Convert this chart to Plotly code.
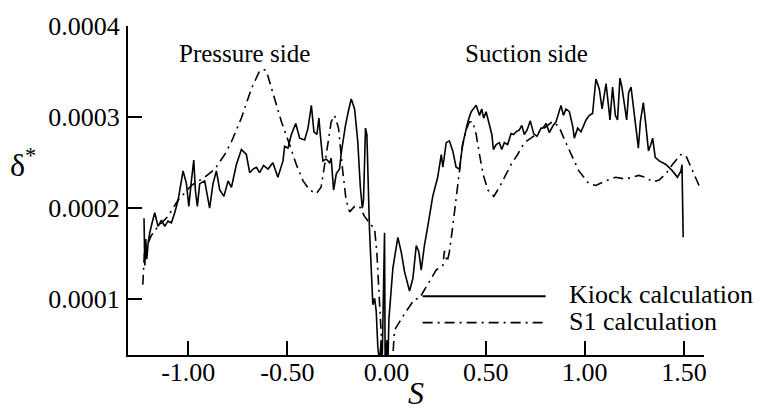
import plotly.graph_objects as go

# ---- data (S, displacement thickness) ----
kiock_s = [-1.223, -1.219, -1.214, -1.209, -1.202, -1.194, -1.182, -1.169, -1.152, -1.135,
           -1.118, -1.102, -1.085, -1.068, -1.051, -1.026, -1.009, -0.997, -0.984, -0.972,
           -0.964, -0.954, -0.942, -0.917, -0.892, -0.875, -0.858, -0.841, -0.820, -0.799,
           -0.782, -0.757, -0.732, -0.707, -0.690, -0.673, -0.656, -0.640, -0.620, -0.598,
           -0.573, -0.548, -0.522, -0.514, -0.497, -0.480, -0.458, -0.438, -0.413, -0.396,
           -0.379, -0.366, -0.351, -0.341, -0.334, -0.321, -0.304, -0.287, -0.279, -0.267,
           -0.253, -0.237, -0.228, -0.207, -0.190, -0.178, -0.161, -0.145, -0.132, -0.122,
           -0.116, -0.106, -0.099, -0.086, -0.069, -0.060, -0.052, -0.044, -0.035, -0.027,
           -0.022, -0.010, -0.007, 0.002, 0.007, 0.012, 0.032, 0.057, 0.074, 0.091,
           0.116, 0.133, 0.150, 0.163, 0.175, 0.191, 0.208, 0.233, 0.258, 0.276,
           0.284, 0.301, 0.317, 0.334, 0.351, 0.368, 0.384, 0.410, 0.427, 0.452,
           0.469, 0.480, 0.490, 0.502, 0.515, 0.531, 0.539, 0.553, 0.569, 0.581,
           0.594, 0.611, 0.628, 0.641, 0.653, 0.670, 0.682, 0.695, 0.709, 0.725,
           0.742, 0.759, 0.779, 0.788, 0.805, 0.821, 0.838, 0.855, 0.880, 0.892,
           0.905, 0.922, 0.939, 0.947, 0.964, 0.981, 1.006, 1.023, 1.039, 1.056,
           1.073, 1.087, 1.107, 1.127, 1.140, 1.154, 1.165, 1.177, 1.187, 1.211,
           1.221, 1.233, 1.258, 1.270, 1.280, 1.295, 1.308, 1.321, 1.333, 1.342,
           1.355, 1.375, 1.409, 1.442, 1.467, 1.485, 1.490, 1.496]
kiock_d = [1.89e-4, 1.37e-4, 1.66e-4, 1.44e-4, 1.62e-4, 1.73e-4, 1.84e-4, 1.95e-4, 1.80e-4, 1.87e-4,
           1.80e-4, 1.86e-4, 1.84e-4, 1.95e-4, 2.09e-4, 2.41e-4, 2.27e-4, 2.02e-4, 2.30e-4, 2.53e-4,
           2.20e-4, 2.02e-4, 2.27e-4, 2.30e-4, 2.00e-4, 2.27e-4, 2.41e-4, 2.20e-4, 2.13e-4, 2.30e-4,
           2.23e-4, 2.48e-4, 2.645e-4, 2.59e-4, 2.39e-4, 2.43e-4, 2.45e-4, 2.39e-4, 2.47e-4, 2.43e-4,
           2.50e-4, 2.34e-4, 2.52e-4, 2.68e-4, 2.66e-4, 2.81e-4, 2.93e-4, 2.77e-4, 2.75e-4, 2.88e-4,
           3.13e-4, 2.84e-4, 2.81e-4, 2.99e-4, 2.81e-4, 2.52e-4, 2.54e-4, 2.50e-4, 2.55e-4, 2.20e-4,
           2.38e-4, 2.43e-4, 2.61e-4, 2.91e-4, 3.09e-4, 3.20e-4, 3.09e-4, 2.73e-4, 2.23e-4, 2.00e-4,
           2.09e-4, 2.88e-4, 2.81e-4, 1.77e-4, 0.94e-4, 1.01e-4, 0.87e-4, 0.48e-4, 0.30e-4, 0.55e-4,
           0.30e-4, 1.73e-4, 0.30e-4, 0.55e-4, 0.30e-4, 0.78e-4, 1.34e-4, 1.68e-4, 1.52e-4, 1.30e-4,
           1.09e-4, 1.23e-4, 1.59e-4, 1.52e-4, 1.32e-4, 1.59e-4, 1.80e-4, 2.13e-4, 2.34e-4, 2.59e-4,
           2.45e-4, 2.72e-4, 2.74e-4, 2.63e-4, 2.45e-4, 2.43e-4, 2.70e-4, 2.95e-4, 3.06e-4, 3.13e-4,
           3.02e-4, 3.09e-4, 2.99e-4, 3.06e-4, 2.95e-4, 2.81e-4, 2.645e-4, 2.70e-4, 2.72e-4, 2.645e-4,
           2.72e-4, 2.70e-4, 2.82e-4, 2.81e-4, 2.84e-4, 2.86e-4, 2.91e-4, 2.81e-4, 2.86e-4, 2.96e-4,
           2.82e-4, 2.79e-4, 2.88e-4, 2.88e-4, 2.93e-4, 2.83e-4, 2.90e-4, 2.95e-4, 3.13e-4, 3.02e-4,
           3.09e-4, 3.06e-4, 2.90e-4, 2.77e-4, 2.88e-4, 2.84e-4, 2.97e-4, 3.02e-4, 3.04e-4, 3.42e-4,
           3.31e-4, 3.09e-4, 3.37e-4, 2.97e-4, 3.33e-4, 3.02e-4, 2.97e-4, 3.43e-4, 3.33e-4, 2.97e-4,
           3.27e-4, 3.33e-4, 2.88e-4, 2.66e-4, 2.95e-4, 3.16e-4, 2.91e-4, 2.63e-4, 2.70e-4, 2.77e-4,
           2.56e-4, 2.52e-4, 2.48e-4, 2.41e-4, 2.34e-4, 2.41e-4, 2.48e-4, 1.68e-4]

s1_s = [-1.229, -1.219, -1.202, -1.186, -1.152, -1.102, -1.051, -0.984, -0.917, -0.866,
        -0.816, -0.782, -0.732, -0.682, -0.640, -0.615, -0.606, -0.564, -0.530, -0.489,
        -0.455, -0.421, -0.388, -0.354, -0.330, -0.304, -0.279, -0.262, -0.242, -0.221,
        -0.204, -0.186, -0.161, -0.136, -0.111, -0.086, -0.060, -0.049, -0.039, -0.027,
        -0.019, 0.030, 0.040, 0.091, 0.141, 0.166, 0.191, 0.225, 0.250, 0.284,
        0.292, 0.306, 0.317, 0.334, 0.351, 0.368, 0.384, 0.401, 0.418, 0.435,
        0.452, 0.469, 0.486, 0.511, 0.541, 0.569, 0.594, 0.628, 0.661, 0.695,
        0.728, 0.761, 0.795, 0.836, 0.869, 0.902, 0.936, 0.970, 1.020, 1.055,
        1.105, 1.155, 1.205, 1.272, 1.305, 1.342, 1.375, 1.409, 1.442, 1.484,
        1.509, 1.534, 1.576]
s1_d = [1.16e-4, 1.59e-4, 1.62e-4, 1.70e-4, 1.80e-4, 1.91e-4, 2.09e-4, 2.25e-4, 2.34e-4, 2.43e-4,
        2.59e-4, 2.73e-4, 2.99e-4, 3.31e-4, 3.51e-4, 3.52e-4, 3.51e-4, 3.20e-4, 2.95e-4, 2.70e-4,
        2.48e-4, 2.30e-4, 2.20e-4, 2.16e-4, 2.23e-4, 2.59e-4, 2.95e-4, 3.02e-4, 2.88e-4, 2.41e-4,
        2.09e-4, 1.96e-4, 2.02e-4, 2.02e-4, 1.91e-4, 1.84e-4, 1.77e-4, 1.52e-4, 1.09e-4, 0.58e-4,
        0.30e-4, 0.30e-4, 0.66e-4, 0.84e-4, 1.00e-4, 1.01e-4, 1.10e-4, 1.23e-4, 1.32e-4, 1.37e-4,
        1.53e-4, 1.41e-4, 1.52e-4, 1.80e-4, 2.13e-4, 2.45e-4, 2.70e-4, 2.86e-4, 2.95e-4, 2.95e-4,
        2.81e-4, 2.59e-4, 2.38e-4, 2.20e-4, 2.13e-4, 2.23e-4, 2.34e-4, 2.48e-4, 2.59e-4, 2.72e-4,
        2.77e-4, 2.82e-4, 2.88e-4, 2.95e-4, 2.90e-4, 2.73e-4, 2.56e-4, 2.41e-4, 2.27e-4, 2.25e-4,
        2.30e-4, 2.34e-4, 2.32e-4, 2.36e-4, 2.34e-4, 2.29e-4, 2.31e-4, 2.38e-4, 2.48e-4, 2.59e-4,
        2.58e-4, 2.45e-4, 2.25e-4]

x_ticks = [-1.0, -0.5, 0.0, 0.5, 1.0, 1.5]
x_tick_text = ["-1.00", "-0.50", "0.00", "0.50", "1.00", "1.50"]
y_ticks = [0.0001, 0.0002, 0.0003, 0.0004]
y_tick_text = ["0.0001", "0.0002", "0.0003", "0.0004"]

series_names = ["Kiock calculation", "S1 calculation"]

FONT = "Liberation Serif"
DASHDOT = "10px,5px,2px,5px"

fig = go.Figure()
fig.add_trace(go.Scatter(x=kiock_s, y=kiock_d, mode="lines", name=series_names[0],
                         line=dict(color="black", width=1.6)))
fig.add_trace(go.Scatter(x=s1_s, y=s1_d, mode="lines", name=series_names[1],
                         line=dict(color="black", width=1.6, dash=DASHDOT)))

axis_common = dict(showgrid=False, zeroline=False, showline=True, linecolor="black",
                   linewidth=2, ticks="inside", ticklen=14, tickwidth=1.6, tickcolor="black",
                   tickfont=dict(family=FONT, size=26, color="black"), mirror=False)

fig.update_xaxes(range=[-1.3037, 1.601], tickmode="array", tickvals=x_ticks,
                 ticktext=x_tick_text, ticklabelstandoff=-7, **axis_common)
fig.update_yaxes(range=[0.3871e-4, 4.002e-4], tickmode="array", tickvals=y_ticks,
                 ticktext=y_tick_text, ticklabelstandoff=1, **axis_common)

# legend drawn as simple line samples + text
legend_rows = [(0.1786, "solid"), (0.0982, DASHDOT)]
for (yy, dash), name in zip(legend_rows, series_names):
    fig.add_shape(type="line", xref="paper", yref="paper", x0=0.5115, x1=0.725, y0=yy, y1=yy,
                  line=dict(color="black", width=1.8, dash=dash))
    fig.add_annotation(xref="paper", yref="paper", x=0.763, y=yy + 0.004, text=name,
                       showarrow=False, xanchor="left", yanchor="middle",
                       font=dict(family=FONT, size=26, color="black"))

fig.add_annotation(xref="paper", yref="paper", x=0.2023, y=0.917, text="Pressure side",
                   showarrow=False, xanchor="center", yanchor="middle",
                   font=dict(family=FONT, size=25, color="black"))
fig.add_annotation(xref="paper", yref="paper", x=0.692, y=0.917, text="Suction side",
                   showarrow=False, xanchor="center", yanchor="middle",
                   font=dict(family=FONT, size=25, color="black"))
# axis labels
fig.add_annotation(xref="paper", yref="paper", x=0.5, y=-0.117, text="<i>S</i>",
                   showarrow=False, xanchor="center", yanchor="middle",
                   font=dict(family=FONT, size=32, color="black"))
fig.add_annotation(xref="paper", yref="paper", x=-0.183, y=0.585, text="δ<sup>*</sup>",
                   showarrow=False, xanchor="center", yanchor="middle",
                   font=dict(family=FONT, size=32, color="black"))

fig.update_layout(width=765, height=411, margin=dict(l=128, r=61, t=19, b=56),
                  paper_bgcolor="white", plot_bgcolor="white", showlegend=False)

fig.write_html("out.html")
